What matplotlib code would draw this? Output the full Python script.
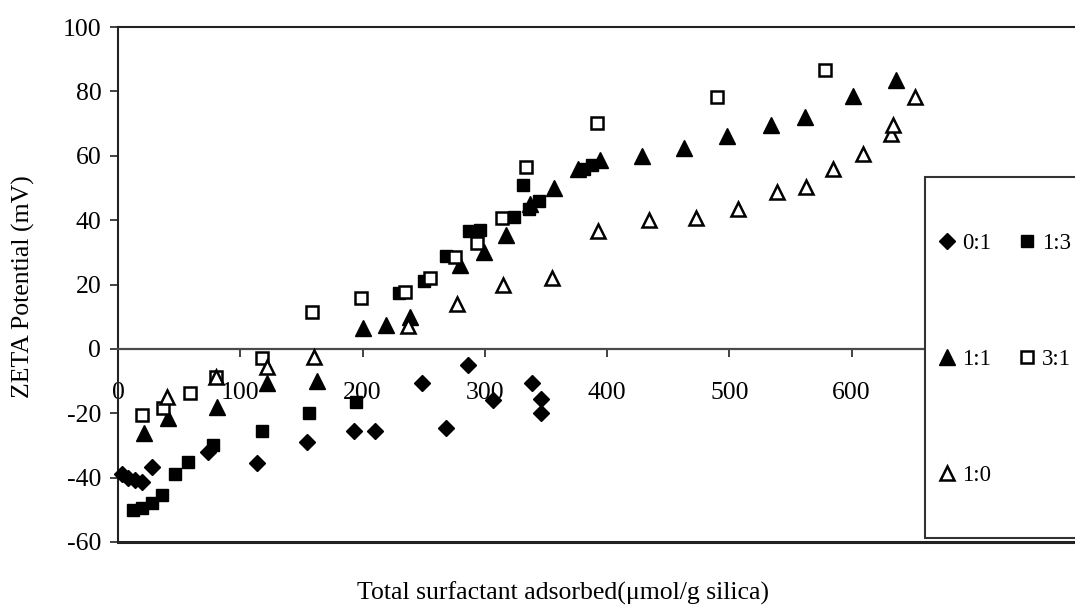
import matplotlib
matplotlib.use("Agg")
import matplotlib.pyplot as plt
from matplotlib.patches import Rectangle

# ---------------------------------------------------------
# zeta potential vs total surfactant adsorbed, per mixing ratio
# ---------------------------------------------------------
x_01 = [3, 8, 14, 20, 28, 74, 114, 155, 193, 210, 249, 268, 286, 307, 339, 346, 346]
y_01 = [-39, -40, -40.7, -41.5, -36.6, -32, -35.5, -29, -25.5, -25.5,
        -10.5, -24.5, -5, -16, -10.5, -15.5, -20]

x_13 = [12, 20, 28, 36, 47, 57, 78, 118, 156, 195, 230, 250, 268, 287, 296,
        324, 331, 336, 344, 381, 388]
y_13 = [-50, -49.4, -47.8, -45.3, -39, -35, -30, -25.5, -20, -16.5, 17.5, 21,
        29, 36.5, 37, 41, 51, 43.5, 46, 56, 57]

x_11 = [21, 41, 81, 122, 163, 200, 219, 239, 280, 299, 317, 337, 357, 376,
        394, 429, 463, 498, 534, 562, 601, 636]
y_11 = [-26, -21.4, -18, -10.6, -10, 6.5, 7.5, 10, 26, 30, 35.4, 45, 50, 56,
        58.7, 60, 62.4, 66, 69.6, 72, 78.5, 83.5]

x_31 = [20, 37, 59, 80, 118, 159, 199, 235, 255, 276, 294, 314, 334, 392, 490, 578]
y_31 = [-20.5, -18.4, -13.7, -8.7, -2.8, 11.5, 15.8, 17.7, 22, 28.6, 33,
        40.7, 56.5, 70.2, 78.3, 86.6]

x_10 = [40, 80, 122, 160, 237, 277, 315, 355, 393, 434, 473, 507, 539, 563,
        585, 609, 632, 634, 652]
y_10 = [-14.8, -8.7, -5.5, -2.4, 7, 14, 20, 22, 36.5, 40, 40.7, 43.5, 48.8,
        50.3, 56, 60.6, 66.8, 69.6, 78.3]

x_ticks = [0, 100, 200, 300, 400, 500, 600]
y_ticks = [-60, -40, -20, 0, 20, 40, 60, 80, 100]

plt.rcParams["font.family"] = ["Liberation Serif", "DejaVu Serif"]
plt.rcParams["axes.unicode_minus"] = False

W, H = 1075, 606
fig = plt.figure(figsize=(W / 100, H / 100), dpi=100)
ax = fig.add_axes([118 / W, (H - 542) / H, 978 / W, (542 - 27) / H])

common = dict(linestyle="none", color="black", clip_on=False, zorder=3)
h01, = ax.plot(x_01, y_01, marker="D", markersize=8.4, mfc="black", mec="black", **common)
h13, = ax.plot(x_13, y_13, marker="s", markersize=8.8, mfc="black", mec="black", **common)
h11, = ax.plot(x_11, y_11, marker="^", markersize=11.5, mfc="black", mec="black", **common)
h31, = ax.plot(x_31, y_31, marker="s", markersize=8.4, mfc="white", mec="black",
               markeredgewidth=1.8, **common)
h10, = ax.plot(x_10, y_10, marker="^", markersize=10.5, mfc="white", mec="black",
               markeredgewidth=1.8, **common)

ax.set_xlim(0, 800)
ax.set_ylim(-60, 100)
ax.set_xticks(x_ticks)
ax.set_yticks(y_ticks)

# x axis crosses at zero, frame line closes the bottom
ax.spines["bottom"].set_position(("data", 0))
ax.spines["bottom"].set_color("#4a4a4a")
ax.spines["bottom"].set_linewidth(1.6)
for side in ["left", "top", "right"]:
    ax.spines[side].set_color("#222222")
    ax.spines[side].set_linewidth(1.5)
ax.axhline(-60, color="#222222", linewidth=2.2, clip_on=False, zorder=2)

ax.tick_params(axis="x", direction="out", length=6, width=1.2, pad=18,
               labelsize=18.5, colors="#222222", labelcolor="black")
ax.tick_params(axis="y", direction="out", length=6, width=1.2, pad=6,
               labelsize=18.5, colors="#222222", labelcolor="black")

fig.text(23 / W, 1 - 287 / H, "ZETA Potential (mV)", rotation=90,
         ha="center", va="center", fontsize=18.5)
fig.text(563 / W, 1 - 593 / H, "Total surfactant adsorbed(\u03bcmol/g silica)",
         ha="center", va="center", fontsize=18.5)

# legend box drawn over the plot area
box = Rectangle((925 / W, (H - 538) / H), 170 / W, (538 - 177) / H,
                transform=fig.transFigure, facecolor="white", edgecolor="#333333",
                linewidth=1.5, zorder=4)
fig.add_artist(box)

fig.legend([h01, h11, h10, h13, h31], ["0:1", "1:1", "1:0", "1:3", "3:1"],
           loc="upper left", bbox_to_anchor=(937 / W, 1 - 233 / H),
           ncol=2, frameon=False, fontsize=16.5, borderpad=0, borderaxespad=0,
           handlelength=0.9, handletextpad=0.2, labelspacing=4.15,
           columnspacing=1.1, markerscale=1.0)

fig.savefig("out.png", dpi=100)
